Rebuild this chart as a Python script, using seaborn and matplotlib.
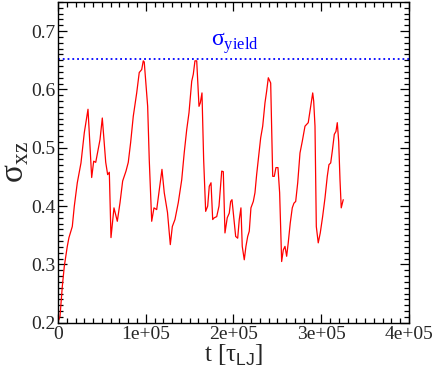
import matplotlib
matplotlib.use("Agg")
import matplotlib.pyplot as plt
import seaborn as sns
from matplotlib.ticker import MultipleLocator, FuncFormatter

# time in units of 1e3 tau_LJ
t_k = [1, 2.3, 4.9, 7.2, 10.6, 12.5, 16.3, 18.6, 22.0, 26.2, 30.0, 34.2, 38.4, 40.7, 43.0,
       47.9, 50.5, 54.4, 56.6, 58.5, 60.4, 63.8, 67.6, 70.7, 73.7, 77.5, 80.1, 82.8, 85.8,
       89.7, 92.6, 95.4, 97.2, 98.3, 102.2, 104.0, 106.8, 109.4, 112.5, 115.4, 118.5, 121.1,
       124.8, 128.0, 130.3, 133.3, 137.1, 141.0, 143.9, 146.7, 149.3, 152.4, 154.2, 156.1,
       158.1, 160.7, 162.2, 164.1, 166.0, 168.3, 170.6, 172.4, 174.4, 176.3, 178.1, 180.9,
       183.5, 186.6, 188.4, 190.3, 192.9, 195.2, 196.8, 198.3, 200.6, 202.5, 204.8, 206.6,
       208.5, 210.0, 212.3, 214.2, 216.2, 218.0, 219.9, 222.6, 224.5, 226.4, 229.1, 231.0,
       233.3, 235.9, 237.8, 239.7, 242.4, 244.7, 246.5, 248.4, 250.7, 252.6, 254.9, 256.8,
       258.7, 260.6, 262.4, 264.7, 267.0, 268.9, 270.9, 273.2, 275.8, 278.4, 281.5, 283.4,
       285.2, 288.0, 290.3, 291.4, 292.9, 294.4, 296.6, 298.9, 301.6, 304.3, 306.9, 308.8,
       310.8, 312.6, 314.9, 316.8, 318.3, 319.9, 321.4, 322.8, 325.1]
sigma_xz = [0.205, 0.211, 0.262, 0.297, 0.331, 0.346, 0.365, 0.400, 0.440, 0.474, 0.526, 0.566,
            0.449, 0.477, 0.475, 0.514, 0.551, 0.475, 0.454, 0.458, 0.346, 0.397, 0.374, 0.406,
            0.443, 0.460, 0.475, 0.509, 0.554, 0.594, 0.629, 0.634, 0.649, 0.647, 0.571, 0.480,
            0.374, 0.397, 0.394, 0.428, 0.463, 0.423, 0.389, 0.334, 0.365, 0.377, 0.406, 0.445,
            0.492, 0.531, 0.560, 0.614, 0.626, 0.649, 0.649, 0.571, 0.577, 0.594, 0.480, 0.391,
            0.400, 0.434, 0.440, 0.377, 0.380, 0.382, 0.400, 0.460, 0.459, 0.354, 0.380, 0.388,
            0.408, 0.411, 0.377, 0.348, 0.345, 0.377, 0.397, 0.331, 0.308, 0.331, 0.348, 0.357,
            0.397, 0.408, 0.423, 0.454, 0.491, 0.517, 0.537, 0.577, 0.597, 0.620, 0.611, 0.451,
            0.451, 0.466, 0.466, 0.423, 0.305, 0.325, 0.331, 0.314, 0.337, 0.371, 0.397, 0.405,
            0.408, 0.440, 0.491, 0.511, 0.537, 0.540, 0.543, 0.571, 0.594, 0.580, 0.537, 0.365,
            0.337, 0.354, 0.382, 0.414, 0.451, 0.471, 0.474, 0.494, 0.523, 0.528, 0.543, 0.511,
            0.445, 0.397, 0.411]
sigma_yield = 0.652

t = [v * 1e3 for v in t_k]

sns.set_theme(style="ticks")
plt.rcParams['font.family'] = ['Liberation Serif', 'DejaVu Serif']
plt.rcParams['mathtext.fontset'] = 'custom'
plt.rcParams['mathtext.rm'] = 'Liberation Serif'
plt.rcParams['mathtext.sf'] = 'Liberation Sans'

fig = plt.figure(figsize=(4.36, 3.82), dpi=100)
ax = fig.add_axes([0.133, 0.155, 0.805, 0.84])

sns.lineplot(x=t, y=sigma_xz, color="red", lw=0.9, estimator=None, sort=False, ax=ax)
ax.axhline(sigma_yield, color="blue", ls=":", lw=1.3)
ax.text(1.74e5, sigma_yield + 0.006, "σ$_{\\rm yield}$", color="blue", fontsize=17,
        ha="left", va="bottom")

ax.set_xlim(0, 4e5)
ax.set_ylim(0.2, 0.75)
ax.xaxis.set_major_locator(MultipleLocator(1e5))
ax.xaxis.set_minor_locator(MultipleLocator(1e4))
ax.yaxis.set_major_locator(MultipleLocator(0.1))
ax.yaxis.set_minor_locator(MultipleLocator(0.01))
ax.xaxis.set_major_formatter(FuncFormatter(lambda v, p: "0" if v == 0 else f"{v:.0e}"))
ax.yaxis.set_major_formatter(FuncFormatter(lambda v, p: f"{v:.1f}"))
ax.tick_params(which="both", direction="in", top=True, right=True, labelsize=14, width=0.9,
               color="black")
ax.tick_params(which="major", length=6.5, pad=2)
ax.tick_params(which="minor", length=3.5)
for s in ax.spines.values():
    s.set_linewidth(1.0)
    s.set_color("black")

ax.set_xlabel("t [τ$_{\\mathsf{LJ}}$]", fontsize=18, labelpad=0)
ax.set_ylabel("σ$_{\\rm xz}$", fontsize=24, labelpad=0)

fig.savefig("out.png", dpi=100)
